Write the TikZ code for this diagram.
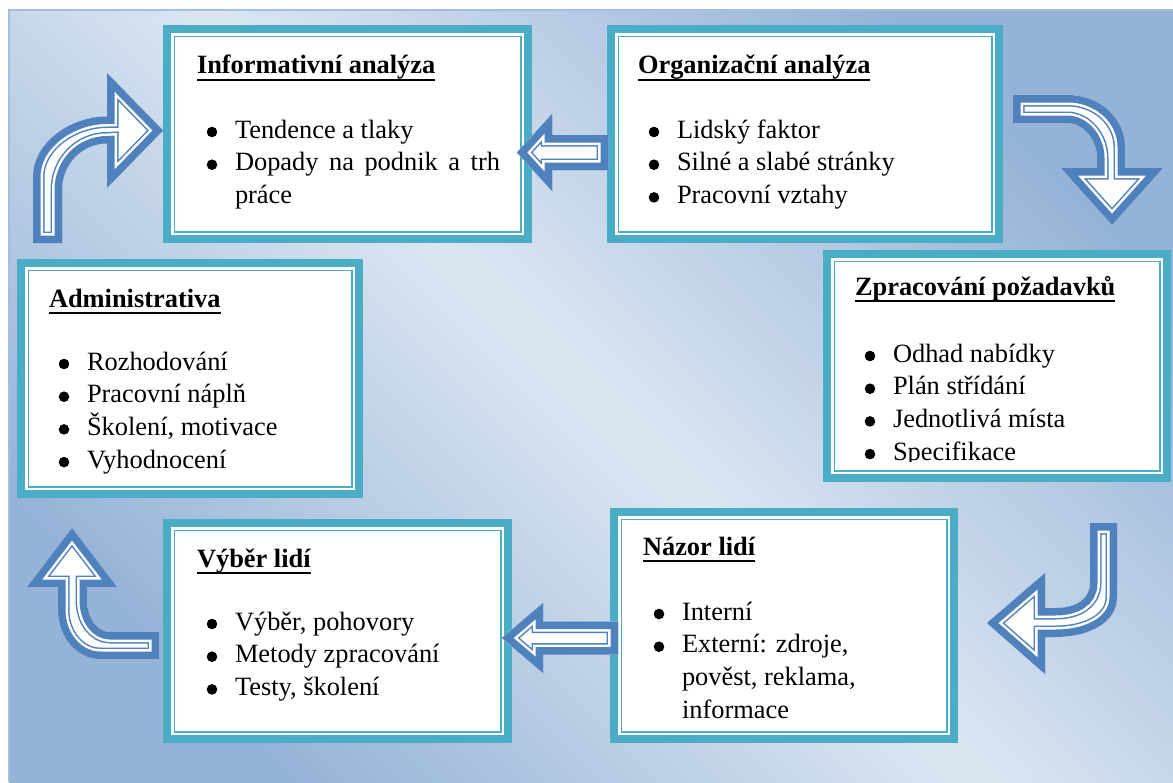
\documentclass[tikz,border=0pt]{standalone}
\usepackage{fontspec}
\setmainfont{Liberation Serif}
\definecolor{frame}{HTML}{4BACC6}
\definecolor{arrowblue}{HTML}{4F81BD}
\definecolor{bgdark}{HTML}{95B3D7}
\definecolor{bglight}{HTML}{DCE6F2}
\definecolor{bgedge}{HTML}{A3BEE0}

% bold underlined heading
\newcommand\headline[1]{\setbox0\hbox{\bfseries #1}\rlap{\rule[-7pt]{\wd0}{2pt}}\box0}
% round bullet hung to the left of the item text
\newcommand\itm{\llap{\tikz[baseline=-6pt]\fill[black] (0pt,0pt) circle[radius=5.3pt];\hspace{17.7pt}}}
% block arrow with inset white/blue double outline
\newcommand\blockarrow[1]{%
  \fill[arrowblue] #1;
  \begin{scope}
    \clip #1;
    \fill[white] #1;
    \draw[arrowblue, line width=23pt, line join=miter] #1;
    \draw[white, line width=20pt, line join=miter] #1;
    \draw[arrowblue, line width=15pt, line join=miter] #1;
  \end{scope}}

\begin{document}
\begin{tikzpicture}[x=1pt,y=-1pt,
  panel/.style={draw=frame, line width=8pt, fill=white, inner sep=0pt, outer sep=0pt},
  innerline/.style={draw=frame, line width=1.5pt},
  words/.style={inner sep=0pt, outer sep=0pt, anchor=base west,
    font=\fontsize{26.4}{32.7}\selectfont, text=black},
]
\useasboundingbox (0,0) rectangle (1173,782);
\fill[white] (0,0) rectangle (1173,782);

% gradient backdrop
\shade[top color=bgdark, bottom color=bgdark, middle color=bglight, shading angle=-45]
  (9,10) rectangle (1173,782);
\draw[bgedge, line width=1.5pt] (9,782) -- (9,10) -- (1173,10);

% panels
\node[panel, minimum width=361pt, minimum height=210pt] (b1) at (347.5,134) {};
\node[panel, minimum width=388pt, minimum height=210pt] (b2) at (805,134) {};
\node[panel, minimum width=340pt, minimum height=224pt] (b3) at (997,366) {};
\node[panel, minimum width=338pt, minimum height=231pt] (b4) at (190,378.5) {};
\node[panel, minimum width=341pt, minimum height=216pt] (b5) at (337.5,631) {};
\node[panel, minimum width=340pt, minimum height=227pt] (b6) at (784,625.5) {};
\foreach \b in {b1,b2,b3,b4,b5,b6}
  \draw[innerline] ([xshift=7.25pt,yshift=-7.25pt]\b.north west)
    rectangle ([xshift=-7.25pt,yshift=7.25pt]\b.south east);

% panel texts
\node[words] (h1) at (197,73.5) {\headline{Informativní analýza}};
\node[words] (l1) at (235,138) {\begin{tabular}[t]{@{}l@{}}
  \itm Tendence a tlaky\\
  \itm \makebox[265pt][s]{Dopady na podnik a trh}\\
  práce\end{tabular}};

\node[words] (h2) at (638,73.5) {\headline{Organizační analýza}};
\node[words] (l2) at (677,138) {\begin{tabular}[t]{@{}l@{}}
  \itm Lidský faktor\\
  \itm Silné a slabé stránky\\
  \itm Pracovní vztahy\end{tabular}};

\node[words] (h3) at (855,295) {\headline{Zpracování požadavků}};
\begin{scope}
  \clip (823,250) rectangle (1171,461);
  \node[words] (l3) at (893,362) {\begin{tabular}[t]{@{}l@{}}
    \itm Odhad nabídky\\
    \itm Plán střídání\\
    \itm Jednotlivá místa\\
    \itm Specifikace\end{tabular}};
\end{scope}

\node[words] (h4) at (49,307) {\headline{Administrativa}};
\node[words] (l4) at (87,370) {\begin{tabular}[t]{@{}l@{}}
  \itm Rozhodování\\
  \itm Pracovní náplň\\
  \itm Školení, motivace\\
  \itm Vyhodnocení\end{tabular}};

\node[words] (h5) at (197,567) {\headline{Výběr lidí}};
\node[words] (l5) at (235,630) {\begin{tabular}[t]{@{}l@{}}
  \itm Výběr, pohovory\\
  \itm Metody zpracování\\
  \itm Testy, školení\end{tabular}};

\node[words] (h6) at (643,555) {\headline{Názor lidí}};
\node[words] (l6) at (682,620) {\begin{tabular}[t]{@{}l@{}}
  \itm Interní\\
  \itm Externí: zdroje,\\
  pověst, reklama,\\
  informace\end{tabular}};

% block arrows of the cycle
\blockarrow{(33,243) -- (33,177) .. controls (33,143) and (70,116.5) .. (107,116.5)
  -- (107,73) -- (163,130.5) -- (107,188) -- (107,143.5)
  .. controls (82,143.5) and (62,164) .. (62,190) -- (62,243) -- cycle}
\blockarrow{(608,135) -- (552,135) -- (552,114) -- (517,152.5) -- (552,191)
  -- (552,170) -- (608,170) -- cycle}
\blockarrow{(1013,95) -- (1068,95) .. controls (1099,95) and (1125,118) .. (1125,147)
  -- (1125,168) -- (1163,168) -- (1112,225) -- (1061,168) -- (1097,168) -- (1097,158)
  .. controls (1097,139) and (1083,123) .. (1067,123) -- (1013,123) -- cycle}
\blockarrow{(1090,523) -- (1117,523) -- (1117,597) .. controls (1117,622) and (1090,637) .. (1055,637)
  -- (1045,637) -- (1045,674) -- (987,623) -- (1045,573) -- (1045,608) -- (1055,608)
  .. controls (1075,608) and (1090,600) .. (1090,583) -- cycle}
\blockarrow{(159,632) -- (110,632) .. controls (97,632) and (87,618) .. (87,600)
  -- (87,587) -- (117,587) -- (72,528) -- (27,587) -- (58,587) -- (58,610)
  .. controls (58,637) and (77,659) .. (100,659) -- (159,659) -- cycle}
\blockarrow{(618,621.5) -- (543,621.5) -- (543,603) -- (502,638) -- (543,673)
  -- (543,654.5) -- (618,654.5) -- cycle}
\end{tikzpicture}
\end{document}
